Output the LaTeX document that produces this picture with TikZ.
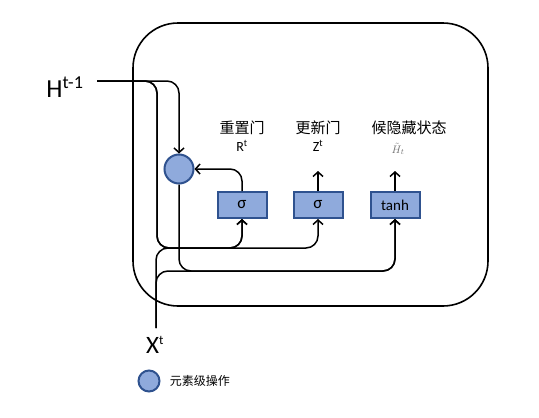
\documentclass[tikz,border=0pt]{standalone}
\usepackage{fontspec}
\setmainfont{Carlito}
\newfontfamily\cjk{Noto Sans CJK SC}
\usetikzlibrary{shapes, arrows, arrows.meta}
\definecolor{opfill}{HTML}{8FAADC}
\definecolor{opline}{HTML}{2F528F}

\begin{document}
\begin{tikzpicture}[x=1pt, y=-1pt, line width=1.5pt,
        flow/.style = {-{Straight Barb[length=4.5pt, width=10pt]}, rounded corners=12pt},
        gate/.style = {draw=opline, fill=opfill, line width=2pt, minimum width=49pt, minimum height=26pt, inner sep=0pt, font=\fontsize{15}{18}\selectfont},
        op/.style = {draw=opline, fill=opfill, line width=2pt, circle, minimum size=29pt, inner sep=0pt},
        gatetitle/.style = {font=\cjk\fontsize{15}{18}\selectfont, inner sep=0pt},
        gatelab/.style = {font=\fontsize{14}{16}\selectfont, inner sep=0pt}]
        \useasboundingbox (0,0) rectangle (539,418);

        \node[draw, line width=1.6pt, rounded corners=45pt, minimum width=355pt, minimum height=283pt] at (310.5,164.5) (cell) {};

        \node[op] at (179,169) (M) {};
        \node[gate] at (242,205) (R) {\fontsize{17}{20}\selectfont σ};
        \node[gate] at (318,205) (Z) {\fontsize{17}{20}\selectfont σ};
        \node[gate] at (395,205) (T) {tanh};

        \node[gatetitle] at (242,128) (Rname) {重置门};
        \node[gatetitle] at (318,128) (Zname) {更新门};
        \node[gatetitle] at (409,128) (Tname) {候隐藏状态};
        \node[gatelab] at (242,146) (Rlab) {R\textsuperscript{t}};
        \node[gatelab] at (318,146) (Zlab) {Z\textsuperscript{t}};
        \node[inner sep=0pt, text=black!55, font=\fontsize{11}{12}\selectfont] at (398,149) (Tlab) {$\tilde{H}_t$};

        \node[inner sep=0pt, font=\fontsize{26}{30}\selectfont] at (65,87) (H) {H\textsuperscript{t-1}};
        \node[inner sep=0pt, font=\fontsize{25}{30}\selectfont] at (155,345) (X) {X\textsuperscript{\fontsize{13}{14}\selectfont t}};

        \node[op, minimum size=21pt] at (149,381) (key) {};
        \node[inner sep=0pt, anchor=west, font=\cjk\fontsize{12}{14}\selectfont] at (169,381) (keylab) {元素级操作};

        \coordinate (hin) at (97,81);
        \coordinate (xin) at (156,328);
        \coordinate (zout) at (318,171);
        \coordinate (tout) at (395,171);

        \draw [flow] (hin) -| (M.north);
        \draw [flow] (hin) -| (157,248) -| (R.south);
        \draw [flow] (hin) -| (157,248) -| (Z.south);
        \draw [flow] (xin) -- (156,248) -| (R.south);
        \draw [flow] (xin) -- (156,271) -| (T.south);
        \draw [flow] (M.south) -- (179,271) -| (T.south);
        \draw [flow] (R.north) |- (M.east);
        \draw [flow] (Z.north) -- (zout);
        \draw [flow] (T.north) -- (tout);
        \end{tikzpicture}
\end{document}
